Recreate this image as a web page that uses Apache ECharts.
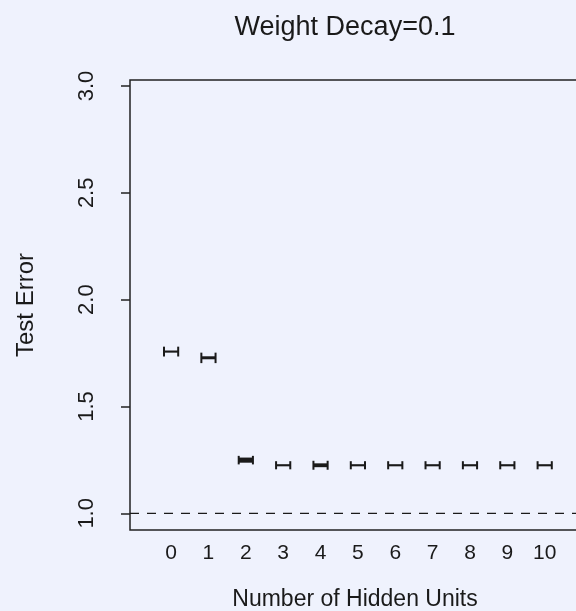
<!DOCTYPE html>
<html>
<head>
<meta charset="utf-8">
<script src="https://cdn.jsdelivr.net/npm/echarts@6/dist/echarts.min.js"></script>
<style>
html,body{margin:0;padding:0;background:#eff2fd;overflow:hidden;width:576px;height:611px;}
#c{width:620px;height:611px;}
</style>
</head>
<body>
<div id="c"></div>
<script>
// Data
var hiddenUnits = [0, 1, 2, 3, 4, 5, 6, 7, 8, 9, 10];
var errCenter = [1.757, 1.728, 1.249, 1.225, 1.225, 1.225, 1.225, 1.225, 1.225, 1.225, 1.225];
var errLow    = [1.734, 1.703, 1.229, 1.206, 1.204, 1.206, 1.206, 1.206, 1.206, 1.206, 1.206];
var errHigh   = [1.780, 1.752, 1.269, 1.244, 1.246, 1.244, 1.244, 1.244, 1.244, 1.244, 1.244];
var boxLow    = [1.752, 1.721, 1.237, 1.220, 1.216, 1.220, 1.220, 1.220, 1.220, 1.220, 1.220];
var boxHigh   = [1.762, 1.735, 1.261, 1.230, 1.234, 1.230, 1.230, 1.230, 1.230, 1.230, 1.230];
var yTicks = [1.0, 1.5, 2.0, 2.5, 3.0];
var xTicks = [0, 1, 2, 3, 4, 5, 6, 7, 8, 9, 10];
var refLine = 1.0;

var X_MIN = -1.1, X_MAX = 11.4, Y_MIN = 0.922, Y_MAX = 3.028;
var FONT = '"Liberation Sans", Arial, Helvetica, sans-serif';
var INK = '#1a1a1a';

var chart = echarts.init(document.getElementById('c'));
var barData = hiddenUnits.map(function (h, i) {
  return [h, errCenter[i], errLow[i], errHigh[i], boxLow[i], boxHigh[i]];
});

chart.setOption({
  backgroundColor: '#eff2fd',
  animation: false,
  title: [
    {
      text: 'Weight Decay=0.1',
      left: 340, top: 9, textAlign: 'center',
      textStyle: { fontFamily: FONT, fontSize: 27, fontWeight: 'normal', color: INK }
    },
    {
      text: 'Number of Hidden Units',
      left: 350, top: 583, textAlign: 'center',
      textStyle: { fontFamily: FONT, fontSize: 23, fontWeight: 'normal', color: INK }
    }
  ],
  grid: {
    left: 130, top: 80, height: 450, width: 467,
    show: true, borderColor: '#222', borderWidth: 1.5, backgroundColor: 'transparent'
  },
  xAxis: {
    type: 'value', min: X_MIN, max: X_MAX,
    axisLine: { show: false, onZero: false },
    axisTick: { show: false },
    splitLine: { show: false },
    axisLabel: {
      customValues: xTicks, margin: 13,
      fontFamily: FONT, fontSize: 21, color: INK
    }
  },
  yAxis: {
    type: 'value', min: Y_MIN, max: Y_MAX,
    name: 'Test Error', nameLocation: 'middle', nameGap: 92, nameRotate: 90,
    nameTextStyle: { fontFamily: FONT, fontSize: 24, color: INK },
    axisLine: { show: false, onZero: false },
    splitLine: { show: false },
    axisTick: { show: true, customValues: yTicks, length: 9, lineStyle: { color: '#222', width: 1.5 } },
    axisLabel: {
      customValues: yTicks, rotate: 90, margin: 32,
      fontFamily: FONT, fontSize: 22, color: INK,
      formatter: function (v) { return v.toFixed(1); }
    }
  },
  series: [
    {
      type: 'line', symbol: 'none', silent: true,
      data: [[X_MIN, refLine], [X_MAX, refLine]],
      lineStyle: { color: INK, width: 1.4, type: [9, 8] }
    },
    {
      type: 'custom', silent: true,
      data: barData,
      renderItem: function (params, api) {
        var x = api.value(0);
        var hw = 0.19;
        var pL = api.coord([x - hw, api.value(1)]);
        var pR = api.coord([x + hw, api.value(1)]);
        var lo = api.coord([x, api.value(2)])[1];
        var hi = api.coord([x, api.value(3)])[1];
        var bLo = api.coord([x, api.value(4)])[1];
        var bHi = api.coord([x, api.value(5)])[1];
        var st = { stroke: INK, lineWidth: 2, fill: null };
        return {
          type: 'group',
          children: [
            { type: 'rect', shape: { x: pL[0], y: bHi, width: pR[0] - pL[0], height: Math.max(1.5, bLo - bHi) }, style: { fill: INK } },
            { type: 'line', shape: { x1: pL[0], y1: lo, x2: pL[0], y2: hi }, style: st },
            { type: 'line', shape: { x1: pR[0], y1: lo, x2: pR[0], y2: hi }, style: st }
          ]
        };
      }
    }
  ]
});
</script>
</body>
</html>
